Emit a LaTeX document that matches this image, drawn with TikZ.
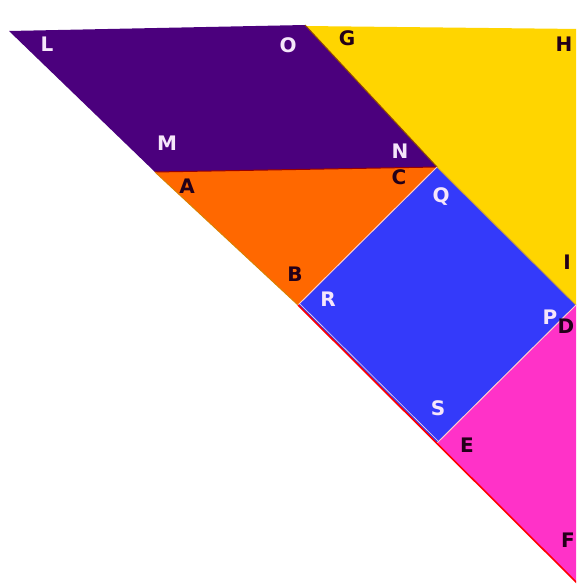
\documentclass[tikz,border=0pt]{standalone}
\usepackage{fontspec}
\setmainfont{DejaVu Sans}
\definecolor{cpurple}{RGB}{75,0,125}
\definecolor{cyellow}{RGB}{255,213,0}
\definecolor{corange}{RGB}{255,104,0}
\definecolor{cblue}{RGB}{52,58,250}
\definecolor{cmagenta}{RGB}{255,50,200}
\definecolor{clight}{RGB}{245,230,250}
\definecolor{cdark}{RGB}{35,0,25}
\begin{document}
\begin{tikzpicture}[x=1pt,y=-1pt,
  lab/.style={font=\fontsize{20}{23}\selectfont\bfseries, inner sep=0pt, anchor=center},
  wl/.style={lab, text=clight},
  bl/.style={lab, text=cdark},
  seam/.style={line width=1pt}]
\useasboundingbox (0,0) rectangle (576,585);
\fill[white] (0,0) rectangle (576,585);
\clip (0,0) rectangle (576,585);
% corner coordinates
\coordinate (L) at (9,31);
\coordinate (O) at (305,25);
\coordinate (G) at (305,26);
\coordinate (H) at (580,29);
\coordinate (Iy) at (580,309);
\coordinate (N) at (437,167);
\coordinate (M) at (155,172);
\coordinate (A) at (155,172);
\coordinate (B) at (298,305);
\coordinate (Q) at (437,167);
\coordinate (P) at (576,305);
\coordinate (R) at (298,305);
\coordinate (S) at (437,443);
\coordinate (D) at (580,301);
\coordinate (E) at (437,443);
\coordinate (F) at (580,586);
% pieces
\fill[cyellow] (G) -- (H) -- (Iy) -- (P) -- (N) -- cycle;
\fill[cpurple] (L) -- (O) -- (N) -- (M) -- cycle;
\fill[corange] (A) -- (N) -- (B) -- cycle;
\fill[cblue] (Q) -- (P) -- (S) -- (R) -- cycle;
\fill[cmagenta] (D) -- (E) -- (F) -- cycle;
% seams
\draw[seam, color=black!60!red!70!yellow] (O) -- (N);
\draw[seam, color=red!60!black] (M) -- (N);
\draw[seam, color=orange!70!olive] (A) -- (B);
\draw[seam, color=pink!80!white] (R) -- (Q);
\draw[seam, color=brown!70!yellow] (Q) -- (P);
\draw[seam, color=pink!80!white] (S) -- (P);
\draw[line width=1.6pt, red] (R) -- (F);
\draw[line width=0.6pt, pink!60!white] ([shift={(1.5,-1.5)}]R) -- ([shift={(1.5,-1.5)}]S);
% labels
\node[wl] (tL) at (47,44) {L};
\node[wl] (tO) at (288,45) {O};
\node[bl] (tG) at (347,38) {G};
\node[bl] (tH) at (564,44) {H};
\node[wl] (tM) at (167,143) {M};
\node[wl] (tN) at (400,151) {N};
\node[bl] (tA) at (187,186) {A};
\node[bl] (tC) at (399,177) {C};
\node[wl] (tQ) at (441,197) {Q};
\node[bl] (tI) at (567,262) {I};
\node[bl] (tB) at (295,274) {B};
\node[wl] (tR) at (328,299) {R};
\node[wl] (tP) at (550,317) {P};
\node[bl] (tD) at (566,326) {D};
\node[wl] (tS) at (438,408) {S};
\node[bl] (tE) at (467,445) {E};
\node[bl] (tF) at (568,540) {F};
\end{tikzpicture}
\end{document}
